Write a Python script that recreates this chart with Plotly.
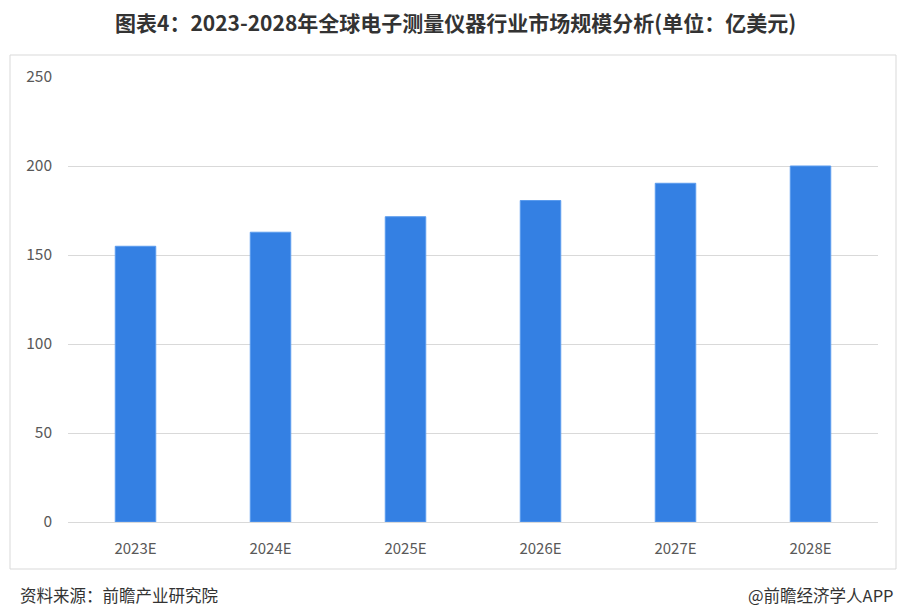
import plotly.graph_objects as go

categories = ["2023E", "2024E", "2025E", "2026E", "2027E", "2028E"]
values = [154.9, 162.8, 171.5, 180.6, 190.3, 200.0]
y_ticks = [0, 50, 100, 150, 200, 250]

title_text = "图表4：2023-2028年全球电子测量仪器行业市场规模分析(单位：亿美元)"
source_text = "资料来源：前瞻产业研究院"
brand_text = "@前瞻经济学人APP"

FONT = "Noto Sans CJK SC"

# page body has an 8px margin; work in screen pixels and convert
OFF = 8
W, H = 909 - OFF, 612 - OFF
PL, PR, PT, PB = 68, 878, 77, 522   # plot area in screen pixels
L = PL - OFF
R = (OFF + W) - PR
T = PT - OFF
B = (OFF + H) - PB
pw = PR - PL
ph = PB - PT

def px_x(x):
    return (x - PL) / pw

def px_y(y):
    return (PB - y) / ph

fig = go.Figure()
fig.add_trace(go.Bar(
    x=categories, y=values,
    marker=dict(color="#3480E3", line=dict(color="#5A9BEE", width=1)),
    width=0.3,
))

fig.update_layout(
    width=W, height=H,
    margin=dict(l=L, r=R, t=T, b=B),
    paper_bgcolor="white", plot_bgcolor="white",
    showlegend=False,
    font=dict(family=FONT, color="#595959", size=15),
    xaxis=dict(showgrid=False, showline=False, ticks="", tickfont=dict(size=15, color="#595959"),
               ticklabelstandoff=16),
    yaxis=dict(range=[0, 250], tickvals=y_ticks, showgrid=True, gridcolor="#D9D9D9", gridwidth=1,
               zeroline=True, zerolinecolor="#D9D9D9", zerolinewidth=1,
               ticks="", tickfont=dict(size=15.5, color="#595959"), ticklabelstandoff=15),
    shapes=[dict(type="rect", xref="paper", yref="paper",
                 x0=px_x(10), x1=px_x(896), y0=px_y(569), y1=px_y(55),
                 line=dict(color="#D9D9D9", width=1), fillcolor="rgba(0,0,0,0)", layer="below")],
    annotations=[
        dict(text="<b>" + title_text + "</b>", xref="paper", yref="paper",
             x=px_x(455), y=px_y(22), xanchor="center", yanchor="middle", showarrow=False,
             font=dict(family=FONT, size=21, color="#333333")),
        dict(text=source_text, xref="paper", yref="paper",
             x=px_x(18), y=px_y(595), xanchor="left", yanchor="middle", showarrow=False,
             font=dict(family=FONT, size=16.5, color="#333333")),
        dict(text=brand_text, xref="paper", yref="paper",
             x=px_x(896), y=px_y(595), xanchor="right", yanchor="middle", showarrow=False,
             font=dict(family=FONT, size=16.5, color="#333333")),
    ],
)

fig.write_html("out.html")
